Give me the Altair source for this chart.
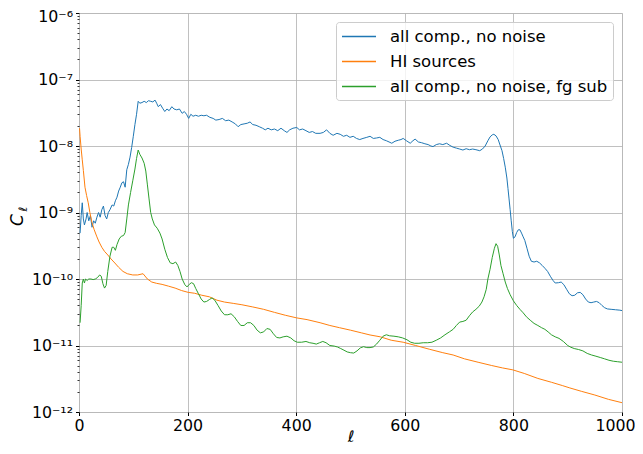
import altair as alt
import pandas as pd

# ---------------- data ----------------
ell_all = [2, 4, 6, 8, 10, 13, 15, 18, 21, 24, 27, 30, 33, 36, 39, 42, 45, 48, 51, 54, 57, 61, 64, 67, 70, 73, 76, 79, 82, 85, 88, 91, 94, 97, 100, 103, 106, 109, 112, 116, 120, 124, 128, 132, 136, 140, 143, 146, 150, 154, 158, 162, 166, 171, 175, 180, 185, 190, 194, 198, 202, 206, 210, 215, 220, 225, 230, 235, 241, 247, 252, 258, 264, 270, 276, 282, 288, 293, 298, 304, 310, 315, 320, 326, 332, 338, 343, 348, 354, 360, 366, 372, 378, 383, 388, 394, 401, 406, 412, 418, 424, 430, 436, 444, 450, 456, 462, 468, 475, 481, 487, 493, 499, 505, 511, 517, 523, 530, 536, 542, 548, 554, 560, 566, 571, 576, 582, 588, 593, 597, 603, 610, 615, 619, 625, 631, 637, 643, 648, 652, 658, 664, 670, 677, 683, 689, 695, 701, 707, 713, 719, 725, 731, 738, 743, 748, 753, 757, 761, 764, 768, 772, 776, 779, 782, 785, 788, 790, 792, 794, 796, 798, 800, 803, 806, 809, 812, 815, 818, 821, 825, 829, 833, 838, 843, 848, 853, 858, 863, 868, 873, 877, 883, 888, 893, 898, 903, 908, 913, 918, 923, 928, 933, 938, 943, 948, 953, 958, 963, 968, 973, 980, 988, 996, 1000]
cl_all = [4.9e-10, 9e-10, 1.4e-9, 8e-10, 6.5e-10, 8e-10, 1.0e-9, 7.5e-10, 9e-10, 6e-10, 7.5e-10, 6.9e-10, 8.5e-10, 1.0e-9, 8.5e-10, 1.1e-9, 1.25e-9, 9e-10, 8e-10, 1.0e-9, 1.1e-9, 1.3e-9, 1.25e-9, 1.5e-9, 1.7e-9, 2.1e-9, 2.4e-9, 2.8e-9, 2.9e-9, 2.4e-9, 4.4e-9, 5.3e-9, 6.8e-9, 9.5e-9, 1.4e-8, 2.1e-8, 3.0e-8, 4.7e-8, 4.4e-8, 4.5e-8, 4.7e-8, 4.5e-8, 4.8e-8, 4.7e-8, 4.6e-8, 4.9e-8, 4.4e-8, 3.9e-8, 4.2e-8, 3.7e-8, 3.3e-8, 3.6e-8, 3.4e-8, 3.9e-8, 3.6e-8, 3.5e-8, 3.6e-8, 3.1e-8, 3.3e-8, 3.0e-8, 2.6e-8, 3.0e-8, 2.8e-8, 2.9e-8, 2.8e-8, 2.9e-8, 2.85e-8, 2.9e-8, 2.7e-8, 2.6e-8, 2.45e-8, 2.5e-8, 2.6e-8, 2.4e-8, 2.45e-8, 2.3e-8, 2.15e-8, 1.95e-8, 2.1e-8, 2.15e-8, 2.2e-8, 2.3e-8, 2.1e-8, 2.05e-8, 1.95e-8, 1.85e-8, 1.75e-8, 1.85e-8, 1.75e-8, 1.8e-8, 1.7e-8, 1.85e-8, 1.7e-8, 1.6e-8, 1.75e-8, 1.85e-8, 1.9e-8, 1.75e-8, 1.8e-8, 1.7e-8, 1.6e-8, 1.65e-8, 1.55e-8, 1.55e-8, 1.6e-8, 1.75e-8, 1.55e-8, 1.45e-8, 1.55e-8, 1.5e-8, 1.4e-8, 1.45e-8, 1.35e-8, 1.4e-8, 1.3e-8, 1.25e-8, 1.3e-8, 1.35e-8, 1.4e-8, 1.3e-8, 1.32e-8, 1.35e-8, 1.25e-8, 1.2e-8, 1.15e-8, 1.1e-8, 1.18e-8, 1.22e-8, 1.25e-8, 1.3e-8, 1.2e-8, 1.1e-8, 1.2e-8, 1.27e-8, 1.15e-8, 1.12e-8, 1.08e-8, 1.05e-8, 1.0e-8, 9.8e-9, 1.05e-8, 1.08e-8, 1.05e-8, 1.1e-8, 1.02e-8, 9.6e-9, 9.3e-9, 9.0e-9, 8.7e-9, 9.1e-9, 8.8e-9, 9.0e-9, 8.8e-9, 8.5e-9, 9.0e-9, 1.0e-8, 1.2e-8, 1.37e-8, 1.47e-8, 1.5e-8, 1.42e-8, 1.25e-8, 1.0e-8, 8.5e-9, 6.5e-9, 4.8e-9, 3.3e-9, 2.3e-9, 1.6e-9, 1.1e-9, 7.5e-10, 5.2e-10, 4.1e-10, 4.3e-10, 5.0e-10, 5.5e-10, 5.5e-10, 4.9e-10, 4.3e-10, 3.8e-10, 2.9e-10, 2.2e-10, 1.85e-10, 1.8e-10, 1.85e-10, 1.75e-10, 1.6e-10, 1.45e-10, 1.3e-10, 1.1e-10, 9.5e-11, 8.7e-11, 8.8e-11, 9.0e-11, 8.2e-11, 7.0e-11, 6.0e-11, 5.6e-11, 5.7e-11, 6.2e-11, 6.3e-11, 5.8e-11, 5.0e-11, 4.5e-11, 4.4e-11, 4.5e-11, 4.6e-11, 4.4e-11, 4.0e-11, 3.7e-11, 3.55e-11, 3.5e-11, 3.45e-11, 3.4e-11, 3.35e-11]

ell_hi = [1, 2, 4, 6, 8, 11, 14, 17, 20, 24, 28, 33, 37, 42, 47, 53, 59, 66, 73, 81, 89, 99, 108, 118, 126, 134, 143, 153, 165, 177, 189, 201, 213, 226, 240, 254, 268, 284, 300, 320, 340, 360, 380, 401, 420, 444, 462, 480, 500, 520, 536, 555, 575, 597, 620, 645, 670, 689, 710, 735, 760, 780, 799, 820, 845, 870, 890, 904, 925, 950, 975, 1000]
cl_hi = [1.85e-8, 1.4e-8, 9e-9, 6.2e-9, 4.3e-9, 2.4e-9, 1.8e-9, 1.4e-9, 1.0e-9, 7e-10, 5.5e-10, 4.3e-10, 3.6e-10, 3.0e-10, 2.6e-10, 2.3e-10, 2.0e-10, 1.74e-10, 1.5e-10, 1.3e-10, 1.2e-10, 1.15e-10, 1.15e-10, 1.2e-10, 1.0e-10, 9.0e-11, 8.6e-11, 8.3e-11, 7.8e-11, 7.3e-11, 6.7e-11, 6.3e-11, 6.1e-11, 5.7e-11, 5.4e-11, 4.8e-11, 4.5e-11, 4.3e-11, 4.1e-11, 3.8e-11, 3.5e-11, 3.15e-11, 2.85e-11, 2.6e-11, 2.45e-11, 2.2e-11, 2.0e-11, 1.85e-11, 1.7e-11, 1.55e-11, 1.44e-11, 1.35e-11, 1.2e-11, 1.12e-11, 1.0e-11, 8.8e-12, 7.8e-12, 7.2e-12, 6.3e-12, 5.6e-12, 5.0e-12, 4.6e-12, 4.3e-12, 3.8e-12, 3.2e-12, 2.8e-12, 2.5e-12, 2.3e-12, 2.05e-12, 1.8e-12, 1.55e-12, 1.38e-12]

ell_fg = [2, 4, 6, 8, 10, 12, 15, 18, 22, 26, 30, 34, 38, 41, 44, 47, 50, 53, 57, 61, 64, 67, 70, 74, 78, 82, 85, 88, 91, 95, 99, 103, 106, 109, 112, 116, 120, 123, 126, 129, 132, 135, 139, 144, 149, 153, 158, 163, 168, 173, 178, 182, 186, 190, 195, 199, 203, 207, 211, 215, 220, 225, 230, 235, 240, 245, 250, 256, 262, 268, 274, 280, 286, 292, 298, 304, 310, 316, 322, 328, 334, 340, 346, 352, 358, 364, 370, 376, 383, 390, 396, 402, 410, 418, 425, 431, 437, 443, 449, 455, 462, 470, 476, 482, 488, 494, 500, 506, 512, 518, 524, 530, 536, 542, 548, 554, 560, 566, 572, 580, 588, 596, 604, 611, 618, 626, 634, 642, 650, 658, 666, 674, 682, 689, 695, 701, 707, 713, 719, 725, 731, 737, 742, 746, 750, 753, 757, 761, 765, 768, 771, 774, 777, 781, 785, 789, 794, 800, 806, 812, 818, 824, 831, 838, 845, 852, 858, 864, 870, 877, 884, 892, 900, 906, 912, 920, 928, 936, 944, 952, 960, 968, 976, 984, 992, 1000]
cl_fg = [2.2e-11, 4e-11, 8.7e-11, 1.0e-10, 8.7e-11, 1.0e-10, 9.5e-11, 1.0e-10, 1.0e-10, 9.8e-11, 1.0e-10, 1.05e-10, 1.15e-10, 1.1e-10, 8.5e-11, 7.3e-11, 8e-11, 1.3e-10, 2.2e-10, 3.0e-10, 3.0e-10, 2.7e-10, 3.3e-10, 4.0e-10, 4.4e-10, 4.5e-10, 5.0e-10, 8e-10, 1.3e-9, 2.0e-9, 3.0e-9, 4.5e-9, 6.5e-9, 8.7e-9, 7.5e-9, 6.6e-9, 5.5e-9, 4.2e-9, 2.6e-9, 1.6e-9, 1.0e-9, 8e-10, 6.5e-10, 5.8e-10, 4.9e-10, 4.0e-10, 2.8e-10, 2.1e-10, 1.75e-10, 1.7e-10, 1.8e-10, 1.6e-10, 1.3e-10, 1.0e-10, 8.2e-11, 7.6e-11, 8.3e-11, 8.8e-11, 8.5e-11, 7.2e-11, 6.0e-11, 5.0e-11, 4.5e-11, 4.6e-11, 4.9e-11, 5.2e-11, 4.8e-11, 4.0e-11, 3.3e-11, 2.9e-11, 2.9e-11, 3.0e-11, 2.7e-11, 2.3e-11, 2.0e-11, 2.0e-11, 2.2e-11, 2.2e-11, 2.0e-11, 1.7e-11, 1.55e-11, 1.6e-11, 1.8e-11, 1.75e-11, 1.5e-11, 1.32e-11, 1.3e-11, 1.35e-11, 1.38e-11, 1.3e-11, 1.18e-11, 1.12e-11, 1.12e-11, 1.15e-11, 1.1e-11, 1.08e-11, 1.05e-11, 1.1e-11, 1.15e-11, 1.1e-11, 1.0e-11, 9.8e-12, 9.5e-12, 9.0e-12, 8.5e-12, 8.0e-12, 7.8e-12, 7.7e-12, 8.3e-12, 9.2e-12, 9.6e-12, 9.3e-12, 9.3e-12, 9.5e-12, 1.05e-11, 1.2e-11, 1.38e-11, 1.45e-11, 1.4e-11, 1.38e-11, 1.35e-11, 1.3e-11, 1.22e-11, 1.12e-11, 1.08e-11, 1.08e-11, 1.1e-11, 1.1e-11, 1.12e-11, 1.2e-11, 1.3e-11, 1.45e-11, 1.6e-11, 1.75e-11, 2.0e-11, 2.25e-11, 2.3e-11, 2.4e-11, 2.8e-11, 3.2e-11, 3.5e-11, 3.9e-11, 4.5e-11, 5.4e-11, 7.0e-11, 1.0e-10, 1.4e-10, 2.1e-10, 2.9e-10, 3.4e-10, 3.1e-10, 2.3e-10, 1.6e-10, 1.2e-10, 9.0e-11, 7.2e-11, 5.8e-11, 4.7e-11, 4.0e-11, 3.5e-11, 3.1e-11, 2.7e-11, 2.4e-11, 2.15e-11, 2.0e-11, 1.85e-11, 1.75e-11, 1.6e-11, 1.45e-11, 1.35e-11, 1.28e-11, 1.15e-11, 1.0e-11, 9.4e-12, 9.0e-12, 8.7e-12, 8.3e-12, 7.6e-12, 7.2e-12, 6.9e-12, 6.6e-12, 6.3e-12, 6.0e-12, 5.8e-12, 5.7e-12, 5.6e-12]

series_names = ["all comp., no noise", "HI sources", "all comp., no noise, fg sub"]
series_colors = ["#1f77b4", "#ff7f0e", "#2ca02c"]
x_ticks = [0, 200, 400, 600, 800, 1000]
y_ticks = [1e-12, 1e-11, 1e-10, 1e-9, 1e-8, 1e-7, 1e-6]
y_minor = [m * 10.0 ** k for k in range(-12, -6) for m in range(2, 10)]

# ---------------- table ----------------
rows = []
for name, ells, cls in zip(series_names, [ell_all, ell_hi, ell_fg], [cl_all, cl_hi, cl_fg]):
    for i, (l, c) in enumerate(zip(ells, cls)):
        rows.append({"ell": l, "cl": c, "series": name, "order": i})
df = pd.DataFrame(rows)

FONT = "DejaVu Sans"
FS = 15.8

label_expr = (
    "datum.value < 5e-12 ? '10⁻¹²' : datum.value < 5e-11 ? '10⁻¹¹' : "
    "datum.value < 5e-10 ? '10⁻¹⁰' : datum.value < 5e-9 ? '10⁻⁹' : "
    "datum.value < 5e-8 ? '10⁻⁸' : datum.value < 5e-7 ? '10⁻⁷' : '10⁻⁶'"
)

xscale = alt.Scale(domain=[0, 1000], nice=False)
yscale = alt.Scale(type="log", domain=[1e-12, 1e-6], nice=False)

x_axis = alt.Axis(values=x_ticks, format="d", title="ℓ", titleFontStyle="italic",
                  titleFont=FONT, titleFontSize=16, titleFontWeight="normal",
                  titleColor="black", titlePadding=-5,
                  labelFont=FONT, labelFontSize=FS, labelColor="black",
                  labelOffset={"condition": {"test": "datum.value > 999", "value": -7}, "value": 0},
                  tickSize=3.5, tickColor="black", labelPadding=3,
                  domain=False, grid=True, gridColor="#b0b0b0", gridWidth=0.8,
                  labelFlush=False)

lines = alt.Chart(df).mark_line(strokeWidth=1, clip=True).encode(
    x=alt.X("ell:Q", scale=xscale, axis=x_axis),
    y=alt.Y("cl:Q", scale=yscale,
            axis=alt.Axis(values=y_ticks, title=None, labelExpr=label_expr,
                          labelFont=FONT, labelFontSize=FS, labelColor="black",
                          labelOffset={"condition": {"test": "datum.value > 5e-7", "value": 3}, "value": 0},
                          tickSize=3.5, tickColor="black", labelPadding=3,
                          domain=False, grid=True, gridColor="#b0b0b0", gridWidth=0.8,
                          labelFlush=False, orient="left")),
    color=alt.Color("series:N",
                    scale=alt.Scale(domain=series_names, range=series_colors),
                    legend=alt.Legend(orient="none", legendX=257, legendY=9, title=None,
                                      symbolType="M-1,0L3,0", symbolSize=289,
                                      symbolStrokeWidth=1.5,
                                      labelFont=FONT, labelFontSize=16.5, labelColor="black",
                                      padding=5, rowPadding=7, labelOffset=30,
                                      fillColor="rgba(255,255,255,0.8)",
                                      strokeColor="#cccccc", cornerRadius=3,
                                      labelLimit=400)),
    detail="series:N",
    order="order:Q",
)

minor = alt.Chart(df).mark_line(opacity=0).encode(
    x=alt.X("ell:Q", scale=xscale, axis=x_axis),
    y=alt.Y("cl:Q", scale=yscale,
            axis=alt.Axis(values=y_minor, orient="left", labels=False, title=None,
                          grid=False, domain=False, tickSize=2, tickColor="black",
                          tickWidth=0.8)),
    detail="series:N",
)

lab = pd.DataFrame({"t": ["C"]})
ytitle_c = alt.Chart(lab).mark_text(angle=270, font=FONT, fontSize=17, fontStyle="italic",
                                   color="black", baseline="alphabetic", align="center").encode(
    text="t:N", x=alt.value(-56), y=alt.value(207))
lab2 = pd.DataFrame({"t": ["ℓ"]})
ytitle_l = alt.Chart(lab2).mark_text(angle=270, font=FONT, fontSize=11.5, fontStyle="italic",
                                    color="black", baseline="alphabetic", align="center").encode(
    text="t:N", x=alt.value(-52), y=alt.value(196))

chart = alt.layer(lines, minor, ytitle_c, ytitle_l).resolve_axis(y="independent").resolve_scale(
    y="shared", x="shared"
).properties(
    width=543, height=399,
    padding={"left": 71, "top": 5, "right": 13, "bottom": 34},
    autosize=alt.AutoSizeParams(type="none"),
).configure_view(stroke="#333333", strokeWidth=1).configure(background="white")

chart.save("out.html", embed_options={"renderer": "svg", "actions": False})
